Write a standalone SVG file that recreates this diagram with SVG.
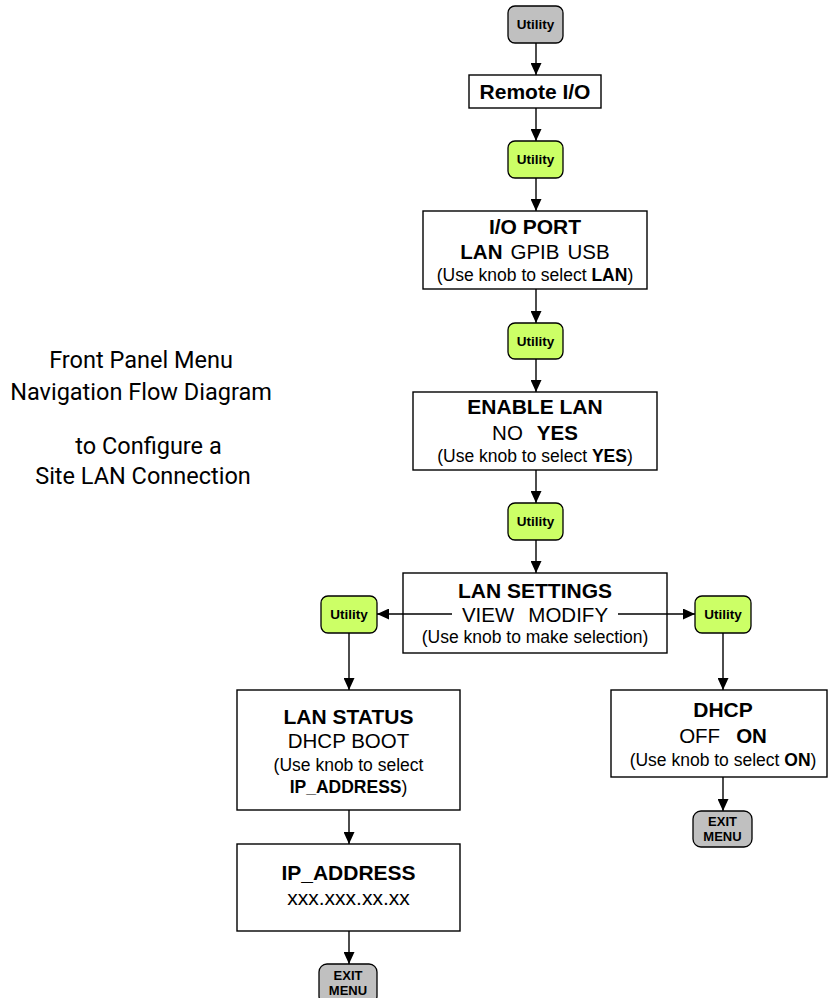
<svg xmlns="http://www.w3.org/2000/svg" width="828" height="998" viewBox="0 0 828 998">
<defs>
<marker id="ah" viewBox="0 0 12 11" refX="12" refY="5.5" markerWidth="12" markerHeight="11" markerUnits="userSpaceOnUse" orient="auto">
<path d="M0,0 L12,5.5 L0,11 z" fill="#000"/>
</marker>
</defs>
<style>
.box{fill:#fff;stroke:#000;stroke-width:1.4}
.btn{stroke:#000;stroke-width:1.3}
.g{fill:#ccff66}
.gr{fill:#c0c0c0}
.t{font-family:"Liberation Sans",Arial,sans-serif;fill:#000;text-anchor:middle}
.ti{font-size:21px;font-weight:bold}
.op{font-size:20.5px}
.nt{font-size:17.5px}
.ut{font-size:13.5px;font-weight:bold}
.ex{font-size:13px;font-weight:bold}
.b{font-weight:bold}
.side{font-family:Roboto,"Liberation Sans",sans-serif;font-size:23.5px;fill:#000;text-anchor:middle}
.ln{stroke:#000;stroke-width:1.4;fill:none;marker-end:url(#ah)}
</style>
<rect width="828" height="998" fill="#fff"/>

<g id="title">
<text class="side" x="141" y="368">Front Panel Menu</text>
<text class="side" x="141" y="400">Navigation Flow Diagram</text>
<text class="side" x="148.5" y="454">to Configure a</text>
<text class="side" x="143" y="484">Site LAN Connection</text>
</g>

<g id="utility1">
<rect class="btn gr" x="508" y="6" width="55" height="37" rx="7"/>
<text class="t ut" x="535.5" y="29">Utility</text>
</g>

<g id="remote-io">
<rect class="box" x="469" y="75" width="132" height="33"/>
<text class="t" x="535" y="99" style="font-size:21px;font-weight:bold">Remote I/O</text>
</g>

<g id="utility2">
<rect class="btn g" x="508" y="141" width="55" height="37" rx="7"/>
<text class="t ut" x="535.5" y="164">Utility</text>
</g>

<g id="io-port">
<rect class="box" x="423" y="211" width="224" height="78"/>
<text class="t ti" x="535" y="234">I/O PORT</text>
<text class="t op" x="535" y="259"><tspan class="b">LAN</tspan><tspan dx="8">GPIB</tspan><tspan dx="8">USB</tspan></text>
<text class="t nt" x="535" y="281">(Use knob to select <tspan class="b">LAN</tspan>)</text>
</g>

<g id="utility3">
<rect class="btn g" x="508" y="323" width="55" height="36" rx="7"/>
<text class="t ut" x="535.5" y="346">Utility</text>
</g>

<g id="enable-lan">
<rect class="box" x="413" y="392" width="244" height="78"/>
<text class="t ti" x="535" y="414">ENABLE LAN</text>
<text class="t op" x="535" y="440">NO<tspan class="b" dx="14">YES</tspan></text>
<text class="t nt" x="535" y="462">(Use knob to select <tspan class="b">YES</tspan>)</text>
</g>

<g id="utility4">
<rect class="btn g" x="508" y="503" width="55" height="37" rx="7"/>
<text class="t ut" x="535.5" y="526">Utility</text>
</g>

<g id="lan-settings">
<rect class="box" x="403" y="573" width="264" height="80"/>
<text class="t ti" x="535" y="598">LAN SETTINGS</text>
<text class="t op" x="535" y="622">VIEW<tspan dx="14">MODIFY</tspan></text>
<text class="t nt" x="535" y="643">(Use knob to make selection)</text>
</g>

<g id="utility-view">
<rect class="btn g" x="321" y="596" width="56" height="37" rx="7"/>
<text class="t ut" x="349" y="619">Utility</text>
</g>

<g id="utility-modify">
<rect class="btn g" x="695" y="596" width="56" height="37" rx="7"/>
<text class="t ut" x="723" y="619">Utility</text>
</g>

<g id="lan-status">
<rect class="box" x="237" y="690" width="223" height="120"/>
<text class="t ti" x="348.5" y="724">LAN STATUS</text>
<text class="t op" x="348.5" y="748">DHCP BOOT</text>
<text class="t nt" x="348.5" y="771">(Use knob to select</text>
<text class="t nt" x="348.5" y="793"><tspan class="b">IP_ADDRESS</tspan>)</text>
</g>

<g id="ip-address">
<rect class="box" x="237" y="844" width="223" height="87"/>
<text class="t ti" x="348.5" y="880">IP_ADDRESS</text>
<text class="t" x="348.5" y="905" style="font-size:21px">xxx.xxx.xx.xx</text>
</g>

<g id="exit-left">
<rect class="btn gr" x="319" y="964" width="58" height="40" rx="8"/>
<text class="t ex" x="348" y="980">EXIT</text>
<text class="t ex" x="348" y="995">MENU</text>
</g>

<g id="dhcp">
<rect class="box" x="611" y="690" width="216" height="87"/>
<text class="t ti" x="723" y="717">DHCP</text>
<text class="t op" x="723" y="743">OFF<tspan class="b" dx="16">ON</tspan></text>
<text class="t nt" x="723" y="766">(Use knob to select <tspan class="b">ON</tspan>)</text>
</g>

<g id="exit-right">
<rect class="btn gr" x="693" y="811" width="59" height="36" rx="8"/>
<text class="t ex" x="722.5" y="826">EXIT</text>
<text class="t ex" x="722.5" y="841">MENU</text>
</g>

<g id="connectors">
<line class="ln" x1="536" y1="43" x2="536" y2="75"/>
<line class="ln" x1="536" y1="108" x2="536" y2="141"/>
<line class="ln" x1="536" y1="178" x2="536" y2="211"/>
<line class="ln" x1="536" y1="289" x2="536" y2="323"/>
<line class="ln" x1="536" y1="359" x2="536" y2="392"/>
<line class="ln" x1="536" y1="470" x2="536" y2="503"/>
<line class="ln" x1="536" y1="540" x2="536" y2="573"/>
<line class="ln" x1="452" y1="614" x2="377" y2="614"/>
<line class="ln" x1="618" y1="614" x2="695" y2="614"/>
<line class="ln" x1="349" y1="633" x2="349" y2="690"/>
<line class="ln" x1="723" y1="633" x2="723" y2="690"/>
<line class="ln" x1="349" y1="810" x2="349" y2="844"/>
<line class="ln" x1="349" y1="931" x2="349" y2="964"/>
<line class="ln" x1="723" y1="777" x2="723" y2="811"/>
</g>
</svg>
